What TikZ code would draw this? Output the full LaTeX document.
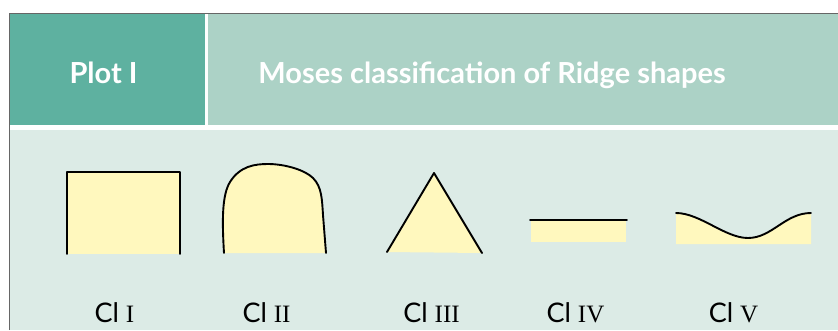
\documentclass[tikz,border=0pt]{standalone}
\usepackage{fontspec}
\setmainfont{Liberation Serif}
\setsansfont{Lato}
\definecolor{hdrdark}{HTML}{5EB1A0}
\definecolor{hdrmid}{HTML}{ACD2C6}
\definecolor{bodybg}{HTML}{DCEBE6}
\definecolor{shapefill}{HTML}{FFF8BE}
\definecolor{framegray}{HTML}{666666}
\begin{document}
\begin{tikzpicture}[x=1pt,y=-1pt,
  hdr/.style={font=\sffamily\bfseries\fontsize{29}{32}\selectfont, text=white, anchor=base, inner sep=0pt},
  lab/.style={font=\sffamily\fontsize{27}{30}\selectfont, text=black, anchor=base, inner sep=0pt},
  outline/.style={line width=1.9pt, line join=round, line cap=round},
  shfill/.style={fill=shapefill}]
\useasboundingbox (0,0) rectangle (838,330);
\fill[white] (0,0) rectangle (838,330);
% header and body
\fill[hdrdark] (9,13) rectangle (205,125);
\fill[hdrmid] (208,13) rectangle (838,125);
\fill[bodybg] (9,130) rectangle (838,330);
\draw[framegray, line width=1pt] (9,330) -- (9,13) -- (838,13);
\node[hdr] (plot) at (103.5,83) {Plot I};
\node[hdr] (title) at (492,83) {Moses classification of Ridge shapes};
% shape 1: square
\fill[shfill] (67,254) rectangle (180,172);
\draw[outline] (67,254) -- (67,172) -- (180,172) -- (180,254);
% shape 2: rounded
\fill[shfill] (224,253) .. controls (222,220) and (222,195) .. (230,182)
  .. controls (240,166) and (255,164) .. (268,164)
  .. controls (285,164) and (305,170) .. (313,178)
  .. controls (322,187) and (322,200) .. (323,215) -- (326,253) -- cycle;
\draw[outline] (224,253) .. controls (222,220) and (222,195) .. (230,182)
  .. controls (240,166) and (255,164) .. (268,164)
  .. controls (285,164) and (305,170) .. (313,178)
  .. controls (322,187) and (322,200) .. (323,215) -- (326,253);
% shape 3: triangle
\fill[shfill] (387,252) -- (434,173) -- (482,253) -- cycle;
\draw[outline] (387,252) -- (434,173) -- (482,253);
% shape 4: flat
\fill[shfill] (531,220) rectangle (626,242);
\draw[outline] (530,220) -- (627,220);
% shape 5: wave
\fill[shfill] (676,213) .. controls (700,213) and (725,238) .. (748,238)
  .. controls (772,238) and (785,213) .. (811,213) -- (811,244) -- (676,244) -- cycle;
\draw[outline] (676,213) .. controls (700,213) and (725,238) .. (748,238)
  .. controls (772,238) and (785,213) .. (811,213);
% labels
\node[lab] (c1) at (114.5,322) {Cl \rmfamily\fontsize{25}{30}\selectfont I};
\node[lab] (c2) at (266.5,322) {Cl \rmfamily\fontsize{25}{30}\selectfont II};
\node[lab] (c3) at (431.5,322) {Cl \rmfamily\fontsize{25}{30}\selectfont III};
\node[lab] (c4) at (575.5,322) {Cl \rmfamily\fontsize{25}{30}\selectfont IV};
\node[lab] (c5) at (733.5,322) {Cl \rmfamily\fontsize{25}{30}\selectfont V};
\end{tikzpicture}
\end{document}
